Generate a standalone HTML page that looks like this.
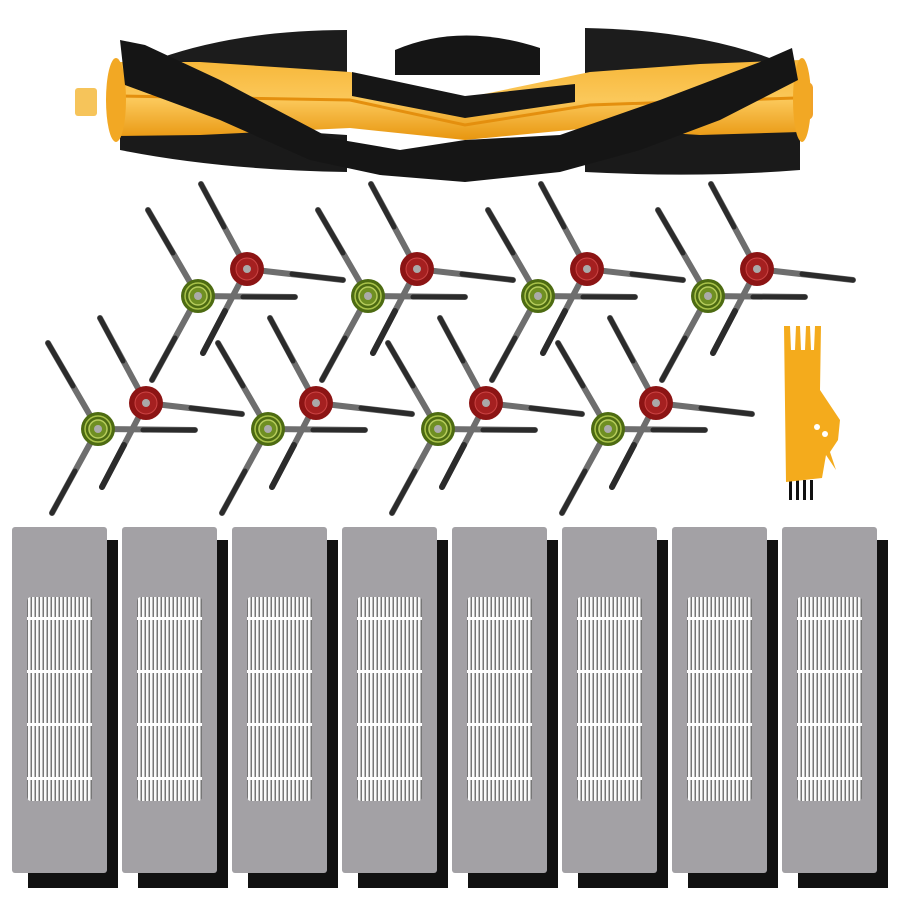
<!DOCTYPE html>
<html><head><meta charset="utf-8"><style>html,body{margin:0;padding:0;background:#fff;width:900px;height:900px;overflow:hidden}</style></head>
<body>
<svg width="900" height="900" viewBox="0 0 900 900" xmlns="http://www.w3.org/2000/svg">
<defs>
<linearGradient id="org" x1="0" y1="0" x2="0" y2="1">
<stop offset="0" stop-color="#f7b739"/><stop offset="0.5" stop-color="#fbc85a"/><stop offset="1" stop-color="#e8960f"/>
</linearGradient>
<pattern id="pleat" width="4" height="10" patternUnits="userSpaceOnUse">
<rect width="4" height="10" fill="#fafafa"/><rect x="2.6" width="1.2" height="10" fill="#555"/>
</pattern>
<g id="green">
<g stroke-linecap="round">
<line x1="0" y1="0" x2="-50" y2="-86" stroke="#6e6e6e" stroke-width="6"/>
<line x1="-25" y1="-43" x2="-50" y2="-86" stroke="#2b2b2b" stroke-width="5"/>
<line x1="0" y1="0" x2="97" y2="1" stroke="#6e6e6e" stroke-width="6"/>
<line x1="45" y1="1" x2="97" y2="1" stroke="#2b2b2b" stroke-width="5"/>
<line x1="0" y1="0" x2="-46" y2="84" stroke="#6e6e6e" stroke-width="6"/>
<line x1="-23" y1="42" x2="-46" y2="84" stroke="#2b2b2b" stroke-width="5"/>
</g>
<circle r="17" fill="#4d6b12"/><circle r="13" fill="none" stroke="#a9c24a" stroke-width="1.5"/><circle r="9" fill="#6f8f22" stroke="#b6cc5c" stroke-width="1.5"/><circle r="4" fill="#aaa"/>
</g>
<g id="red">
<g stroke-linecap="round">
<line x1="0" y1="0" x2="-46" y2="-85" stroke="#6e6e6e" stroke-width="6"/>
<line x1="-23" y1="-42" x2="-46" y2="-85" stroke="#2b2b2b" stroke-width="5"/>
<line x1="0" y1="0" x2="96" y2="11" stroke="#6e6e6e" stroke-width="6"/>
<line x1="45" y1="5" x2="96" y2="11" stroke="#2b2b2b" stroke-width="5"/>
<line x1="0" y1="0" x2="-44" y2="84" stroke="#6e6e6e" stroke-width="6"/>
<line x1="-22" y1="42" x2="-44" y2="84" stroke="#2b2b2b" stroke-width="6"/>
</g>
<circle r="17" fill="#8c1414"/><circle r="11" fill="#a52020" stroke="#c44" stroke-width="1"/><circle r="4" fill="#aaa"/>
</g>
<g id="filter">
<rect x="16" y="540" width="90" height="348" fill="#111"/>
<rect x="0" y="527" width="95" height="346" rx="3" fill="#a3a1a5"/>
<rect x="15" y="597" width="65" height="204" rx="4" fill="url(#pleat)"/>
<rect x="15" y="617" width="65" height="3" fill="#fff"/>
<rect x="15" y="670" width="65" height="3" fill="#fff"/>
<rect x="15" y="723" width="65" height="3" fill="#fff"/>
<rect x="15" y="777" width="65" height="3" fill="#fff"/>
</g>
</defs>

<!-- roller brush -->
<g>
<rect x="75" y="88" width="22" height="28" rx="3" fill="#f6c45a"/>
<rect x="795" y="82" width="18" height="38" rx="6" fill="#f1a22a"/>
<!-- top vanes -->
<path d="M160 58 Q240 30 347 30 L347 80 L160 80 Z" fill="#1c1c1c"/>
<path d="M585 28 Q700 30 780 62 L780 80 L585 80 Z" fill="#1c1c1c"/>
<path d="M395 50 Q460 22 540 48 L540 75 L395 75 Z" fill="#151515"/>
<!-- bottom vanes -->
<path d="M120 120 L347 135 L347 172 Q220 170 120 150 Z" fill="#1a1a1a"/>
<path d="M585 135 L800 120 L800 170 Q700 178 585 172 Z" fill="#1a1a1a"/>
<!-- orange core -->
<path d="M112 62 L200 62 L350 72 L465 98 L590 72 L700 64 L800 60 L800 132 L700 135 L590 128 L465 140 L350 128 L200 135 L112 136 Z" fill="url(#org)"/>
<path d="M120 96 L350 100 L465 125 L590 105 L795 98" stroke="#e48f0e" stroke-width="3" fill="none"/>
<ellipse cx="116" cy="100" rx="10" ry="42" fill="#f2a824"/>
<ellipse cx="802" cy="100" rx="9" ry="42" fill="#f2a824"/>
<!-- center top vane V -->
<path d="M352 72 L465 96 L575 84 L575 102 L465 118 L352 96 Z" fill="#161616"/>
<!-- bristle band -->
<path d="M120 40 L145 45 L220 80 L330 138 L400 150 L465 140 L560 135 L660 100 L760 62 L792 48 L798 80 L720 120 L640 150 L560 172 L465 182 L380 175 L310 160 L220 120 L125 85 Z" fill="#151515"/>
</g>

<!-- side brushes -->
<use href="#green" x="198" y="296"/><use href="#red" x="247" y="269"/>
<use href="#green" x="368" y="296"/><use href="#red" x="417" y="269"/>
<use href="#green" x="538" y="296"/><use href="#red" x="587" y="269"/>
<use href="#green" x="708" y="296"/><use href="#red" x="757" y="269"/>
<use href="#green" x="98" y="429"/><use href="#red" x="146" y="403"/>
<use href="#green" x="268" y="429"/><use href="#red" x="316" y="403"/>
<use href="#green" x="438" y="429"/><use href="#red" x="486" y="403"/>
<use href="#green" x="608" y="429"/><use href="#red" x="656" y="403"/>

<!-- cleaning tool -->
<g>
<rect x="789" y="480" width="3" height="20" fill="#111"/><rect x="796" y="480" width="3" height="20" fill="#111"/>
<rect x="803" y="480" width="3" height="20" fill="#111"/><rect x="810" y="480" width="3" height="20" fill="#111"/>
<path d="M784 326 L790 326 L791 350 L795 350 L796 326 L800 326 L801 350 L805 350 L806 326 L810 326 L811 350 L814 350 L815 326 L821 326 L820 390 L840 420 L838 440 L830 452 L836 470 L826 455 L822 478 L786 482 Z" fill="#f4ab1c"/>
<circle cx="817" cy="427" r="3" fill="#fff"/><circle cx="825" cy="434" r="3" fill="#fff"/>
</g>

<!-- filters -->
<use href="#filter" x="12"/><use href="#filter" x="122"/><use href="#filter" x="232"/><use href="#filter" x="342"/>
<use href="#filter" x="452"/><use href="#filter" x="562"/><use href="#filter" x="672"/><use href="#filter" x="782"/>
</svg>
</body></html>
